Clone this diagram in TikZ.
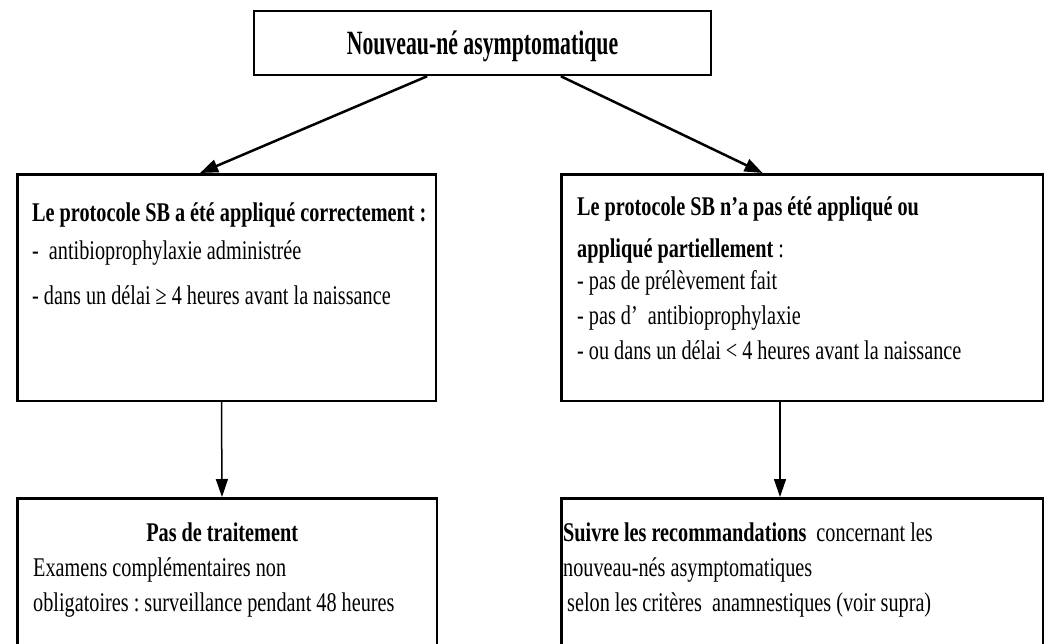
\documentclass[tikz,border=0pt]{standalone}
\usepackage{fontspec}
\setmainfont{Liberation Serif}[FakeStretch=0.75]
\newfontfamily\titrefont{Liberation Serif}[FakeStretch=0.64]
\usepackage{tikz}
\usetikzlibrary{arrows.meta}
\newcommand\serre{\frenchspacing\spaceskip=5pt plus 1pt minus 1pt\relax}

\begin{document}
\begin{tikzpicture}[x=1pt,y=-1pt,
boite/.style={draw,line width=2.5pt,inner sep=0pt},
texte/.style={anchor=base west,inner sep=0pt,align=left,font=\fontsize{27}{34}\selectfont},
fleche/.style={line width=2.5pt,-{Triangle[length=18pt,width=13pt]}},
flechev/.style={line width=1.5pt,-{Triangle[length=18pt,width=12pt]}}]
\useasboundingbox (0,0) rectangle (1052,643);
\clip (0,0) rectangle (1052,643);
\node[boite,minimum width=457pt,minimum height=64pt,text height=23pt,text depth=0pt,font=\titrefont\fontsize{34}{40}\selectfont\bfseries] (nouveau) at (482.5,43) {Nouveau-né asymptomatique};
\node[boite,minimum width=418.5pt,minimum height=226.5pt] (gauche) at (226.5,287.5) {};
\node[boite,minimum width=481.5pt,minimum height=226.5pt] (droite) at (802,287.5) {};
\node[boite,minimum width=419.5pt,minimum height=200pt] (basg) at (227,598.25) {};
\node[boite,minimum width=481.5pt,minimum height=200pt] (basd) at (802,598.25) {};
\node[texte,text width=440pt] (tgauche) at (32,221) {\serre{\bfseries Le protocole SB a été appliqué correctement :}\\[4pt]
-\ \ antibioprophylaxie administrée\\[11pt]
- dans un délai ≥ 4 heures avant la naissance};
\node[texte,text width=470pt] (tdroite) at (577,215) {\serre{\bfseries Le protocole SB n’a pas été appliqué ou}\\[8pt]
{\bfseries appliqué partiellement} :\\[-2pt]
- pas de prélèvement fait\\[1pt]
- pas d’\ \ antibioprophylaxie\\[1pt]
- ou dans un délai < 4 heures avant la naissance};
\node[texte,text width=440pt] (tbasg) at (33,541) {\serre\makebox[378pt]{\bfseries Pas de traitement}\\[1pt]
Examens complémentaires non\\[1pt]
obligatoires : surveillance pendant 48 heures};
\node[texte,text width=470pt] (tbasd) at (563,541) {\serre{\bfseries Suivre les recommandations}\ \ concernant les\\[1pt]
nouveau-nés asymptomatiques\\[1pt]
\hspace{4pt}selon les critères\ \ anamnestiques (voir supra)};
\draw[fleche] (nouveau.211) -- (gauche.103);
\draw[fleche] (nouveau.337.4) -- (droite.109.3);
\draw[flechev] ([xshift=-5pt]gauche.south) -- ([xshift=-5pt]basg.north);
\draw[flechev] ([xshift=-22pt]droite.south) -- ([xshift=-22pt]basd.north);
\end{tikzpicture}
\end{document}
